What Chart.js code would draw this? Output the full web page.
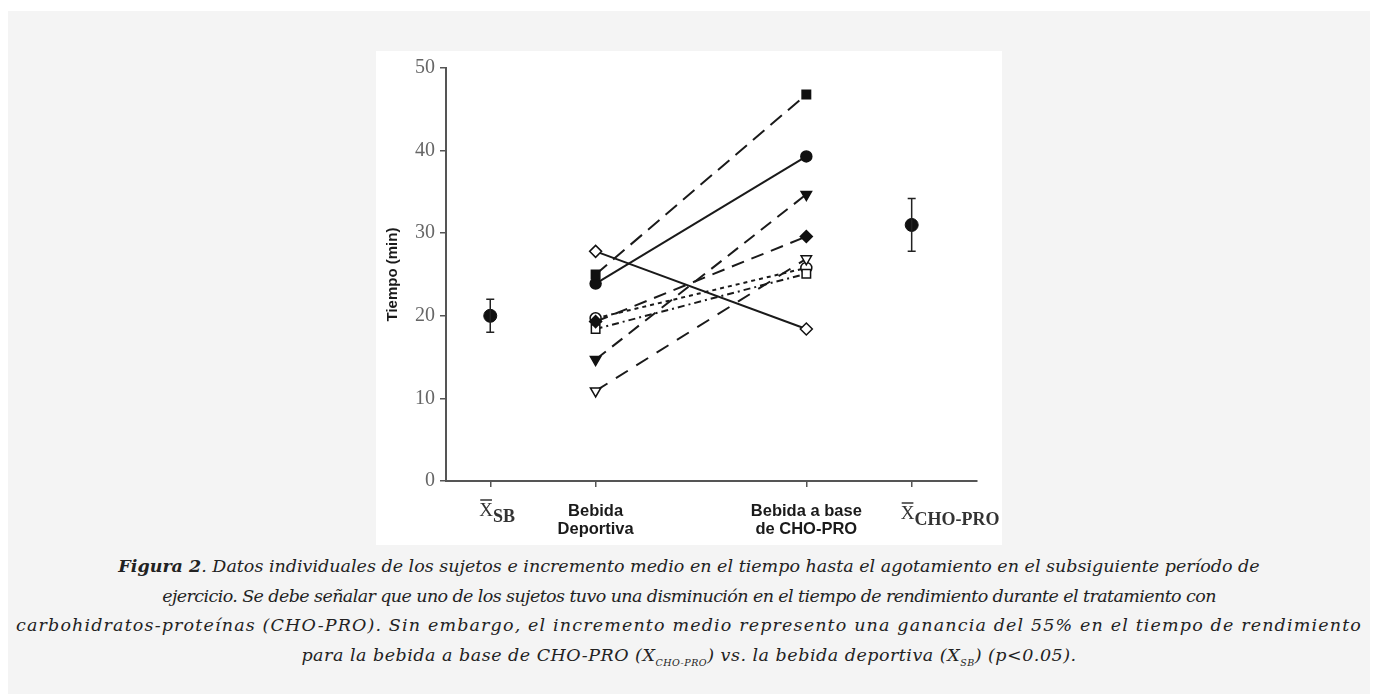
<!DOCTYPE html>
<html>
<head>
<meta charset="utf-8">
<script src="https://cdn.jsdelivr.net/npm/chart.js@4.4.1/dist/chart.umd.min.js"></script>
<style>
  body { margin: 0; background: #fff; }
  #page { position: absolute; left: 8px; top: 11px; width: 1362px; height: 683px; background: #f4f4f4; }
  #fig { position: absolute; left: 368px; top: 40px; width: 626px; height: 494px; background: #fff; }
  #caption { position: absolute; left: 0; top: 541px; width: 1362px; margin: 0; text-align: center;
    font-family: 'DejaVu Serif', serif; font-style: italic; font-size: 17.5px; line-height: 29.7px; color: #222; }
  #caption sub { font-size: 9.5px; }
  .l2 { letter-spacing: -0.6px; }
  .l3 { letter-spacing: 1.15px; }
  .l4 { letter-spacing: 0.5px; }
</style>
</head>
<body>
<div id="page">
  <div id="fig"><canvas id="chart_fig" width="626" height="494"></canvas></div>
  <p id="caption"><b>Figura 2</b>. Datos individuales de los sujetos e incremento medio en el tiempo hasta el agotamiento en el subsiguiente período de<br><span class="l2">ejercicio. Se debe señalar que uno de los sujetos tuvo una disminución en el tiempo de rendimiento durante el tratamiento con</span><br><span class="l3">carbohidratos-proteínas (CHO-PRO). Sin embargo, el incremento medio represento una ganancia del 55% en el tiempo de rendimiento</span><br><span class="l4">para la bebida a base de CHO-PRO (X<sub>CHO-PRO</sub>) vs. la bebida deportiva (X<sub>SB</sub>) (p&lt;0.05).</span></p>
</div>
<script>
// categories along the x axis and where they sit
let categories = ['X̄SB', 'Bebida Deportiva', 'Bebida a base de CHO-PRO', 'X̄CHO-PRO']
let xPos = [1, 2, 4, 5]
let yTicks = [0, 10, 20, 30, 40, 50]

// individual subjects: [Bebida Deportiva, Bebida a base de CHO-PRO]
let subj_sq_filled = [25.0, 46.8]
let subj_circ_filled = [23.9, 39.3]
let subj_diam_open = [27.8, 18.4]
let subj_tri_filled = [14.7, 34.7]
let subj_diam_filled = [19.3, 29.6]
let subj_tri_open = [10.9, 26.9]
let subj_sq_open = [18.4, 25.1]
let subj_circ_open = [19.7, 25.8]

// group means and error (+/-)
let mean_values = [20.0, 31.0]
let mean_errors = [2.0, 3.2]

// helper to build one subject line (x from the two drink categories)
function subject(values, style, filled, dash, rotation) {
  return {
    data: values.map((v, i) => ({ x: xPos[i + 1], y: v })),
    showLine: true,
    borderColor: '#1a1a1a',
    borderWidth: 2,
    borderDash: dash,
    pointStyle: style,
    pointRotation: rotation || 0,
    pointRadius: style == 'circle' ? 5.5 : 6,
    pointBackgroundColor: filled ? '#111' : '#fff',
    pointBorderColor: '#111',
    pointBorderWidth: 1.5
  }
}

let datasets = [
  subject(subj_sq_filled, 'rect', true, [15, 8]),
  subject(subj_circ_filled, 'circle', true, []),
  subject(subj_diam_open, 'rectRot', false, []),
  subject(subj_tri_filled, 'triangle', true, [13, 8], 180),
  subject(subj_diam_filled, 'rectRot', true, [13, 8]),
  subject(subj_tri_open, 'triangle', false, [14, 10], 180),
  subject(subj_sq_open, 'rect', false, [7, 4, 2, 4]),
  subject(subj_circ_open, 'circle', false, [4, 4]),
  {
    // means
    data: mean_values.map((v, i) => ({ x: xPos[i * 3], y: v })),
    showLine: false,
    pointStyle: 'circle',
    pointRadius: 6.5,
    pointBackgroundColor: '#111',
    pointBorderColor: '#111'
  }
]

// error bars and the X-bar labels are drawn from the scales
let extrasPlugin = {
  id: 'extras',
  afterDatasetsDraw(chart) {
    let c = chart.ctx, xs = chart.scales.x, ys = chart.scales.y
    c.save()
    c.strokeStyle = '#222'
    c.lineWidth = 1.5
    mean_values.forEach((m, i) => {
      let px = xs.getPixelForValue(xPos[i * 3])
      let top = ys.getPixelForValue(m + mean_errors[i])
      let bot = ys.getPixelForValue(m - mean_errors[i])
      c.beginPath()
      c.moveTo(px, top); c.lineTo(px, bot)
      c.moveTo(px - 4, top); c.lineTo(px + 4, top)
      c.moveTo(px - 4, bot); c.lineTo(px + 4, bot)
      c.stroke()
    })
    c.restore()
  },
  afterDraw(chart) {
    let c = chart.ctx, xs = chart.scales.x
    let subs = ['SB', 'CHO-PRO']
    c.save()
    c.fillStyle = '#333'
    c.strokeStyle = '#333'
    c.textBaseline = 'alphabetic'
    subs.forEach((s, i) => {
      let px = xs.getPixelForValue(xPos[i * 3]) - 11
      let base = chart.chartArea.bottom + 35 + i * 3
      c.font = '19px "Liberation Serif"'
      c.fillText('X', px, base)
      let w = c.measureText('X').width
      c.lineWidth = 1.5
      c.beginPath(); c.moveTo(px + 1, base - 16); c.lineTo(px + w - 1, base - 16); c.stroke()
      c.font = 'bold 18px "Liberation Serif"'
      c.fillText(s, px + w, base + 6)
    })
    c.restore()
  }
}

let ctx = document.getElementById('chart_fig')
new Chart(ctx, {
  type: 'scatter',
  data: { datasets: datasets },
  plugins: [extrasPlugin],
  options: {
    responsive: false,
    animation: false,
    layout: { padding: { top: 8, right: 25, left: 0, bottom: 0 } },
    plugins: { legend: { display: false }, tooltip: { enabled: false } },
    scales: {
      x: {
        type: 'linear',
        min: 0.58,
        max: 5.62,
        afterFit: scale => { scale.height = 64 },
        afterBuildTicks: axis => { axis.ticks = xPos.map(v => ({ value: v })) },
        ticks: {
          autoSkip: false,
          maxRotation: 0,
          padding: 15,
          color: '#1a1a1a',
          font: { family: '"Liberation Sans"', size: 16.5, weight: 'bold', lineHeight: 1.1 },
          callback: v => {
            let i = xPos.indexOf(v)
            if (i == 0 || i == 3) return ''
            return i == 1 ? ['Bebida', 'Deportiva'] : ['Bebida a base', 'de CHO-PRO']
          }
        },
        grid: { drawOnChartArea: false, tickLength: 6, color: '#555', lineWidth: 1.5 },
        border: { color: '#555', width: 2 }
      },
      y: {
        min: 0,
        max: 50,
        afterFit: scale => { scale.width = 70 },
        afterBuildTicks: axis => { axis.ticks = yTicks.map(v => ({ value: v })) },
        ticks: {
          padding: 5,
          color: '#666',
          font: { family: '"Liberation Serif"', size: 20 }
        },
        title: {
          display: true,
          text: 'Tiempo (min)',
          color: '#1a1a1a',
          font: { family: '"Liberation Sans"', size: 15, weight: 'bold' },
          padding: { top: 8, bottom: 0 }
        },
        grid: { drawOnChartArea: false, tickLength: 6, color: '#555', lineWidth: 1.5 },
        border: { color: '#555', width: 2 }
      }
    }
  }
})
</script>
</body>
</html>
